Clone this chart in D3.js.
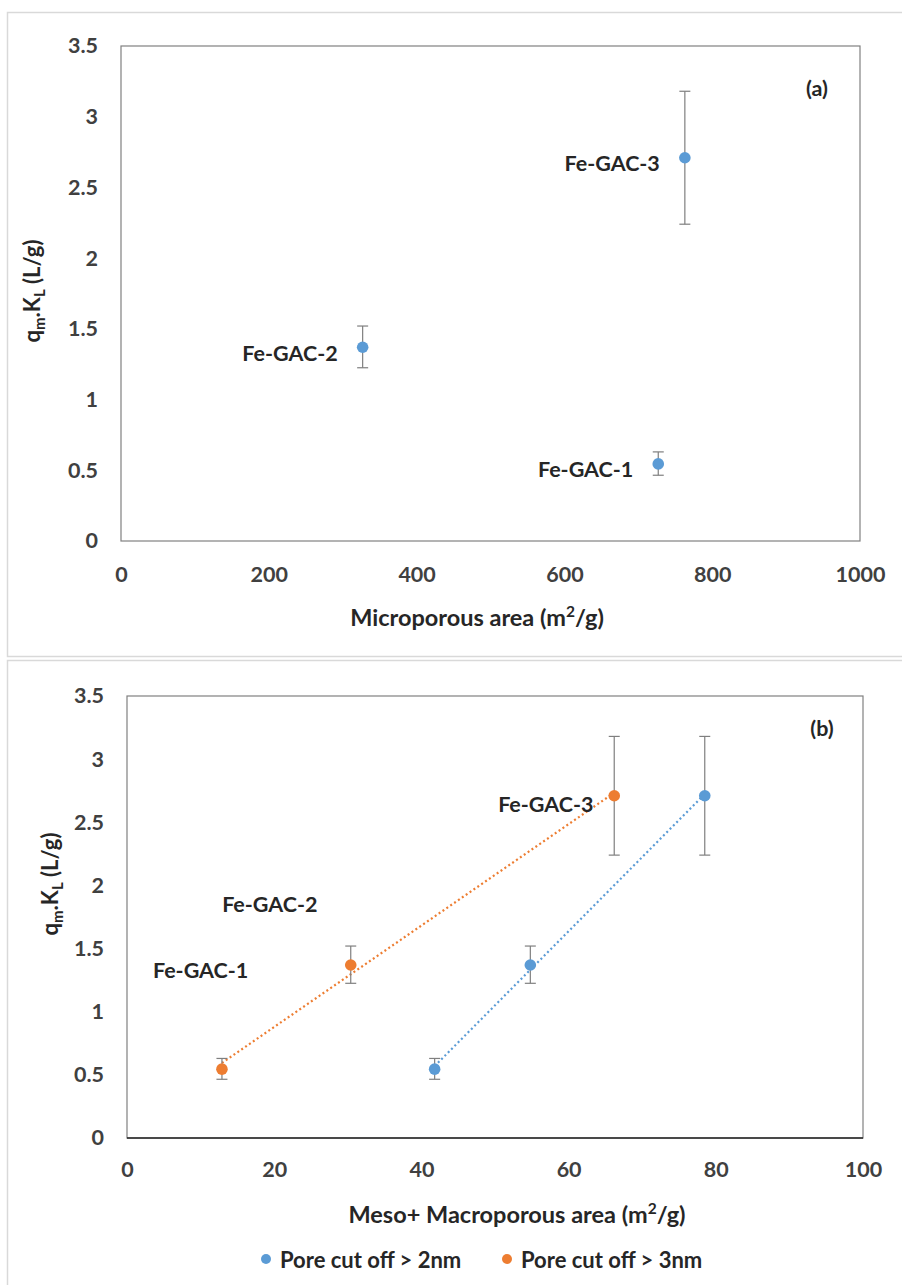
<!DOCTYPE html>
<html><head><meta charset="utf-8">
<script src="https://cdn.jsdelivr.net/npm/d3@7"></script>
<style>
body{margin:0;background:#fff;}
text{font-family:Lato,"Open Sans",sans-serif;}
</style></head>
<body>
<svg id="c" width="902" height="1285"></svg>
<script>
// ---------- data ----------
const samples = ["Fe-GAC-1", "Fe-GAC-2", "Fe-GAC-3"];
const qmKL = [0.545, 1.37, 2.71];
const errLow = [0.08, 0.145, 0.47];
const errHigh = [0.085, 0.15, 0.47];
const microArea = [727, 327, 763];
const mesoMacro2nm = [41.8, 54.8, 78.5];
const mesoMacro3nm = [12.9, 30.4, 66.2];
const seriesNames = ["Pore cut off > 2nm", "Pore cut off > 3nm"];
const seriesColors = ["#5B9BD5", "#ED7D31"];
const yTicks = [0, 0.5, 1, 1.5, 2, 2.5, 3, 3.5];
const xTicksA = [0, 200, 400, 600, 800, 1000];
const xTicksB = [0, 20, 40, 60, 80, 100];
// label anchor points for panel (b), in data units
const labelPosBx = [10.0, 19.4, 56.9];
const labelPosBy = [1.33, 1.85, 2.64];

const svg = d3.select("#c");
const txt = "#262626", tick = "#404040", errC = "#7f7f7f";
const FS_LABEL = 21.5, FS_TICK = 21.5, FS_XT = 23.5, FS_YT = 22, FS_LEG = 22;

// panel frames
svg.append("rect").attr("x",7.5).attr("y",12.5).attr("width",920).attr("height",644)
  .attr("fill","none").attr("stroke","#d9d9d9").attr("stroke-width",1.5);
svg.append("rect").attr("x",7.5).attr("y",660.5).attr("width",920).attr("height",660)
  .attr("fill","none").attr("stroke","#d9d9d9").attr("stroke-width",1.5);

function yTitle(g, x, y){
  const t = g.append("text").attr("transform",`translate(${x},${y}) rotate(-90)`)
    .attr("text-anchor","middle").attr("font-size",FS_YT).attr("font-weight","bold").attr("fill",txt);
  t.append("tspan").text("q");
  t.append("tspan").attr("font-size",FS_YT*0.68).attr("dy",5).text("m");
  t.append("tspan").attr("dy",-5).text(".K");
  t.append("tspan").attr("font-size",FS_YT*0.68).attr("dy",5).text("L");
  t.append("tspan").attr("dy",-5).text(" (L/g)");
}
function xTitle(g, x, y, main){
  const t = g.append("text").attr("x",x).attr("y",y).attr("text-anchor","middle")
    .attr("font-size",FS_XT).attr("font-weight","bold").attr("fill",txt);
  t.append("tspan").text(main + " (m");
  t.append("tspan").attr("font-size",FS_XT*0.66).attr("dy",-9).text("2");
  t.append("tspan").attr("dy",9).text("/g)");
}

function panel(cfg){
  const x = d3.scaleLinear().domain(cfg.xDomain).range([cfg.left, cfg.right]);
  const y = d3.scaleLinear().domain([0,3.5]).range([cfg.bottom, cfg.top]);
  const g = svg.append("g");
  g.append("rect").attr("x",cfg.left).attr("y",cfg.top).attr("width",cfg.right-cfg.left)
    .attr("height",cfg.bottom-cfg.top).attr("fill","none").attr("stroke","#808080").attr("stroke-width",1.2);
  const ya = g.append("g").attr("transform",`translate(${cfg.left},0)`)
    .call(d3.axisLeft(y).tickValues(yTicks).tickSize(0).tickPadding(cfg.yPad).tickFormat(d3.format("")));
  const xa = g.append("g").attr("transform",`translate(0,${cfg.bottom})`)
    .call(d3.axisBottom(x).tickValues(cfg.xTicks).tickSize(0).tickPadding(cfg.xPad).tickFormat(d3.format("")));
  [ya, xa].forEach(a=>{
    a.select(".domain").remove();
    a.selectAll("text").attr("font-size",FS_TICK).attr("font-family","Lato").attr("fill",tick).attr("font-weight","bold");
  });
  if (cfg.bottomDark) g.append("line").attr("x1",cfg.left).attr("x2",cfg.right)
    .attr("y1",cfg.bottom).attr("y2",cfg.bottom).attr("stroke","#262626").attr("stroke-width",1.4);
  return {g,x,y};
}

function errorBars(p, xs){
  xs.forEach((xv,i)=>{
    const cx = p.x(xv), y1 = p.y(qmKL[i]+errHigh[i]), y0 = p.y(qmKL[i]-errLow[i]);
    p.g.append("line").attr("x1",cx).attr("x2",cx).attr("y1",y1).attr("y2",y0).attr("stroke",errC).attr("stroke-width",1.2);
    [y1,y0].forEach(yy=>p.g.append("line").attr("x1",cx-5.5).attr("x2",cx+5.5).attr("y1",yy).attr("y2",yy).attr("stroke",errC).attr("stroke-width",1.2));
  });
}
function points(p, xs, color){
  p.g.selectAll(null).data(xs).enter().append("circle")
    .attr("cx",d=>p.x(d)).attr("cy",(d,i)=>p.y(qmKL[i])).attr("r",5.8).attr("fill",color);
}
function trend(p, xs, color){
  const mx = d3.mean(xs), my = d3.mean(qmKL);
  const sxy = d3.sum(xs,(d,i)=>(d-mx)*(qmKL[i]-my)), sxx = d3.sum(xs,d=>(d-mx)*(d-mx));
  const b = sxy/sxx, a = my - b*mx;
  const ext = d3.extent(xs);
  p.g.append("line").attr("x1",p.x(ext[0])).attr("y1",p.y(a+b*ext[0]))
    .attr("x2",p.x(ext[1])).attr("y2",p.y(a+b*ext[1]))
    .attr("stroke",color).attr("stroke-width",2.2).attr("stroke-dasharray","2 2.7");
}

// ---------- panel (a) ----------
const pa = panel({left:121,right:860,top:46,bottom:541,xDomain:[0,1000],xTicks:xTicksA,yPad:23,xPad:26});
errorBars(pa, microArea);
points(pa, microArea, seriesColors[0]);
microArea.forEach((xv,i)=>{
  pa.g.append("text").attr("x",pa.x(xv)-25).attr("y",pa.y(qmKL[i])+6).attr("dy","0.35em")
    .attr("text-anchor","end").attr("font-size",FS_LABEL).attr("font-weight","bold").attr("fill",txt).text(samples[i]);
});
pa.g.append("text").attr("x",817).attr("y",88).attr("dy","0.35em").attr("text-anchor","middle")
  .attr("font-size",FS_LABEL).attr("font-weight","bold").attr("fill",txt).text("(a)");
yTitle(svg, 40, 291);
xTitle(svg, 477, 626, "Microporous area");

// ---------- panel (b) ----------
const pb = panel({left:127,right:863,top:696,bottom:1138,xDomain:[0,100],xTicks:xTicksB,yPad:23,xPad:24,bottomDark:true});
trend(pb, mesoMacro3nm, seriesColors[1]);
trend(pb, mesoMacro2nm, seriesColors[0]);
errorBars(pb, mesoMacro2nm);
errorBars(pb, mesoMacro3nm);
points(pb, mesoMacro2nm, seriesColors[0]);
points(pb, mesoMacro3nm, seriesColors[1]);
samples.forEach((s,i)=>{
  pb.g.append("text").attr("x",pb.x(labelPosBx[i])).attr("y",pb.y(labelPosBy[i])).attr("dy","0.35em")
    .attr("text-anchor","middle").attr("font-size",FS_LABEL).attr("font-weight","bold").attr("fill",txt).text(s);
});
pb.g.append("text").attr("x",822).attr("y",728).attr("dy","0.35em").attr("text-anchor","middle")
  .attr("font-size",FS_LABEL).attr("font-weight","bold").attr("fill",txt).text("(b)");
yTitle(svg, 58, 884);
xTitle(svg, 517, 1223, "Meso+ Macroporous area");

// legend
const legX = [266, 507];
seriesNames.forEach((n,i)=>{
  svg.append("circle").attr("cx",legX[i]).attr("cy",1259).attr("r",5).attr("fill",seriesColors[i]);
  svg.append("text").attr("x",legX[i]+14).attr("y",1260).attr("dy","0.35em")
    .attr("font-size",FS_LEG).attr("font-weight","bold").attr("fill",txt).text(n);
});
</script>
</body></html>
